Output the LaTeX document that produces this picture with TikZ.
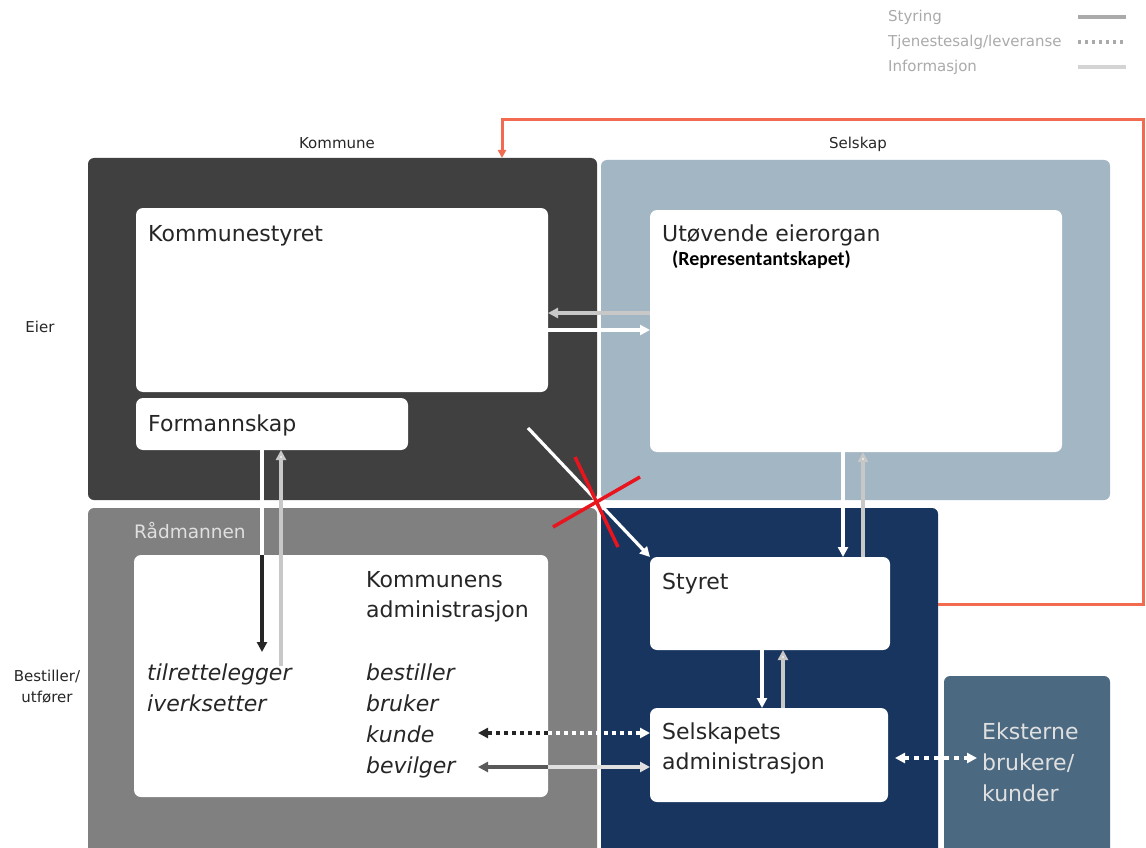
\documentclass[tikz,border=0pt]{standalone}
\usepackage{fontspec}
\setmainfont{DejaVu Sans}
\newfontfamily\carl{Carlito}
\usetikzlibrary{arrows.meta}
\definecolor{komgray}{HTML}{404040}
\definecolor{selblue}{HTML}{A3B6C4}
\definecolor{radgray}{HTML}{808080}
\definecolor{navy}{HTML}{17355E}
\definecolor{eksblue}{HTML}{4B6A82}
\definecolor{redline}{HTML}{F26A50}
\definecolor{crossred}{HTML}{E8141E}
\definecolor{infogray}{HTML}{C8C8C8}
\definecolor{leggray}{HTML}{AAAAAA}
\tikzset{
  area/.style={inner sep=0, outer sep=0, anchor=north west, rounded corners=6pt},
  wbox/.style={fill=white, inner sep=0, outer sep=0, anchor=north west, rounded corners=7pt},
  big/.style={font=\fontsize{22}{26}\selectfont, anchor=base west, inner sep=0, text=black!85},
  bigit/.style={big, font=\fontsize{22}{26}\selectfont\itshape},
  small/.style={font=\fontsize{15}{18}\selectfont, anchor=base, inner sep=0, text=black!85},
  leg/.style={font=\fontsize{15}{18}\selectfont, anchor=base west, inner sep=0, text=leggray},
  tip/.style={-{Triangle[length=10pt,width=10pt]}},
  both/.style={{Triangle[length=10pt,width=10pt]}-{Triangle[length=10pt,width=10pt]}},
  styr/.style={draw=white, line width=3.2pt},
  inf/.style={draw=infogray, line width=3.2pt},
}
\begin{document}
\begin{tikzpicture}[x=1pt,y=-1pt]
\useasboundingbox (0,0) rectangle (1146,848);
\clip (0,0) rectangle (1146,848);
% areas
\node[area, fill=komgray, minimum width=509, minimum height=342] (kom) at (88,158) {};
\node[area, fill=selblue, minimum width=509, minimum height=340] (sel) at (601,160) {};
\node[area, fill=radgray, minimum width=509, minimum height=360] (rad) at (88,508) {};
\node[area, fill=navy, minimum width=337, minimum height=360] (nav) at (601,508) {};
\node[area, fill=eksblue, minimum width=166, minimum height=190] (eks) at (944,676) {};
% white boxes
\node[wbox, minimum width=412, minimum height=184] (ks) at (136,208) {};
\node[wbox, minimum width=272, minimum height=52] (fm) at (136,398) {};
\node[wbox, minimum width=412, minimum height=242] (ut) at (650,210) {};
\node[wbox, minimum width=414, minimum height=242] (ka) at (134,555) {};
\node[wbox, minimum width=240, minimum height=93] (st) at (650,557) {};
\node[wbox, minimum width=238, minimum height=94] (sa) at (650,708) {};
% outer labels
\node[small] (lkom) at (337,149) {Kommune};
\node[small] (lsel) at (858,149) {Selskap};
\node[small] (leier) at (40,332) {Eier};
\node[small] (lbest1) at (47,681) {Bestiller/};
\node[small] (lbest2) at (47,702) {utfører};
% legend
\node[leg] (g1) at (888,22) {Styring};
\node[leg] (g2) at (888,47) {Tjenestesalg/leveranse};
\node[leg] (g3) at (888,72) {Informasjon};
\coordinate (g1a) at (1078,17); \coordinate (g1b) at (1126,17);
\coordinate (g2a) at (1078,42); \coordinate (g2b) at (1126,42);
\coordinate (g3a) at (1078,67); \coordinate (g3b) at (1126,67);
\draw[draw=leggray, line width=3.5pt] (g1a) -- (g1b);
\draw[draw=leggray, line width=3.5pt, dash pattern=on 3pt off 4pt] (g2a) -- (g2b);
\draw[draw=black!17, line width=3.5pt] (g3a) -- (g3b);
% texts
\node[big] (tks) at (148,241) {Kommunestyret};
\node[big] (tut) at (662,241) {Utøvende eierorgan};
\node[anchor=base west, inner sep=0, font=\carl\bfseries\fontsize{20}{24}\selectfont] (trep) at (672,265) {(Representantskapet)};
\node[big] (tfm) at (148,431) {Formannskap};
\node[big, text=black!12, font=\fontsize{18.5}{22}\selectfont] (trad) at (134,538) {Rådmannen};
\node[big] (tka1) at (366,587) {Kommunens};
\node[big] (tka2) at (366,617) {administrasjon};
\node[bigit] (ttil) at (147,680) {tilrettelegger};
\node[bigit] (tive) at (147,711) {iverksetter};
\node[bigit] (tbes) at (366,680) {bestiller};
\node[bigit] (tbru) at (366,711) {bruker};
\node[bigit] (tkun) at (366,742) {kunde};
\node[bigit] (tbev) at (366,773) {bevilger};
\node[big] (tst) at (662,589) {Styret};
\node[big] (tsa1) at (662,739) {Selskapets};
\node[big] (tsa2) at (662,769) {administrasjon};
\node[big, text=black!12] (tek1) at (982,739) {Eksterne};
\node[big, text=black!12] (tek2) at (982,770) {brukere/};
\node[big, text=black!12] (tek3) at (982,801) {kunder};
% ks <-> ut
\draw[inf, tip] (ut.west |- 0,313) -- (ks.east |- 0,313);
\draw[styr, tip] (ks.east |- 0,330) -- (ut.west |- 0,330);
% fm <-> ka
\coordinate (v1) at (262,652);
\coordinate (v2) at (281,666);
\draw[styr] (fm.south -| 262,0) -- (ka.north -| 262,0);
\draw[draw=black!85, line width=3.2pt, tip] (ka.north -| 262,0) -- (v1);
\draw[inf, -{Triangle[length=10pt,width=10pt,fill=white]}] (v2) -- (fm.south -| 281,0);
% ut <-> st
\draw[styr, tip] (ut.south -| 843,0) -- (st.north -| 843,0);
\draw[inf, -{Triangle[length=10pt,width=10pt,fill=white]}] (st.north -| 863,0) -- (ut.south -| 863,0);
% st <-> sa
\draw[styr, tip] (st.south -| 762,0) -- (sa.north -| 762,0);
\draw[inf, -{Triangle[length=10pt,width=10pt,fill=white]}] (sa.north -| 783,0) -- (st.south -| 783,0);
% diagonal
\coordinate (dstart) at (528,428);
\draw[styr, tip] (dstart) -- (st.north west);
\coordinate (x1a) at (575,457); \coordinate (x1b) at (618,547);
\coordinate (x2a) at (553,527); \coordinate (x2b) at (640,477);
\draw[crossred, line width=3.5pt] (x1a) -- (x1b);
\draw[crossred, line width=3.5pt] (x2a) -- (x2b);
% admin dotted
\coordinate (d1) at (478,733);
\draw[draw=black!85, line width=3.5pt, dash pattern=on 4pt off 4pt, tip] (ka.east |- 0,733) -- (d1);
\draw[draw=white, line width=3.5pt, dash pattern=on 4pt off 4pt, tip] (ka.east |- 0,733) -- (sa.west |- 0,733);
% admin solid
\coordinate (d2) at (478,767);
\draw[draw=black!65, line width=3.2pt, tip] (ka.east |- 0,767) -- (d2);
\draw[draw=black!12, line width=3.2pt, tip] (ka.east |- 0,767) -- (sa.west |- 0,767);
% external
\coordinate (e0) at (895,758);
\coordinate (e1) at (977,758);
\draw[draw=white, line width=4pt, dash pattern=on 5pt off 5pt, both] (e0) -- (e1);
% red feedback line
\coordinate (r1) at (1143,604);
\coordinate (r2) at (1143,120);
\coordinate (r3) at (502,120);
\draw[redline, line width=3pt, -{Triangle[length=8pt,width=8pt]}] (nav.east |- 0,604) -- (r1) -- (r2) -- (r3) -- (kom.north -| 502,0);
\end{tikzpicture}
\end{document}
